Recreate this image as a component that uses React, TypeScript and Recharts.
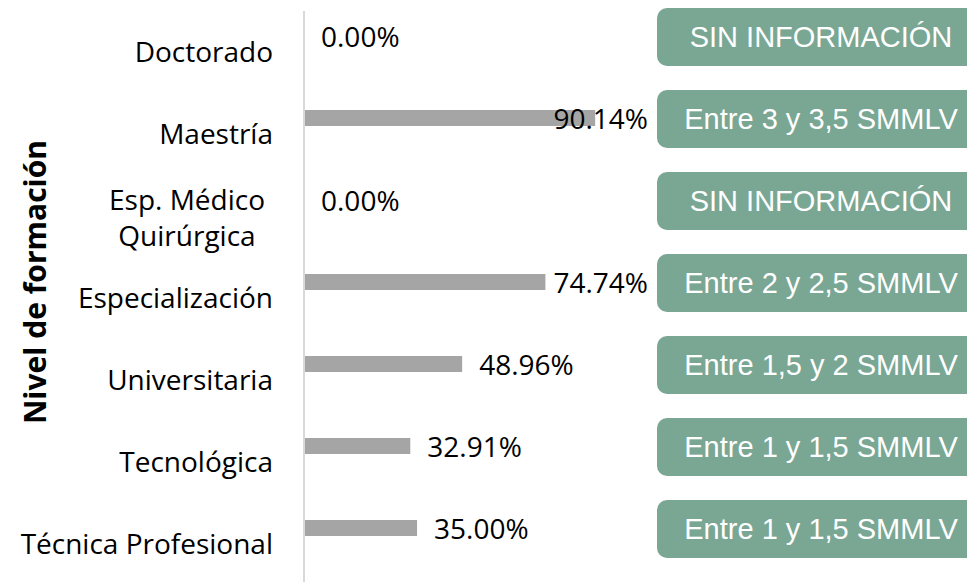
import { BarChart, Bar, XAxis, YAxis, LabelList } from "recharts";

const categories = [
  "Doctorado",
  "Maestría",
  "Esp. Médico Quirúrgica",
  "Especialización",
  "Universitaria",
  "Tecnológica",
  "Técnica Profesional",
];
const shares = [0, 90.14, 0, 74.74, 48.96, 32.91, 35.0];
const salaryRanges = [
  "SIN INFORMACIÓN",
  "Entre 3 y 3,5 SMMLV",
  "SIN INFORMACIÓN",
  "Entre 2 y 2,5 SMMLV",
  "Entre 1,5 y 2 SMMLV",
  "Entre 1 y 1,5 SMMLV",
  "Entre 1 y 1,5 SMMLV",
];

const data = categories.map((name, i) => ({
  name,
  share: shares[i],
  salary: salaryRanges[i],
}));

// bars sit in the upper slot of each category band (like an Excel cluster)
const BAR_SHIFT = -16;
const LABEL_FONT = "'Open Sans', 'Noto Sans', sans-serif";

function ShiftedBar(props: any) {
  const { x, y, width, height } = props;
  if (!width) return null;
  return <rect x={x} y={y + BAR_SHIFT} width={width} height={height} fill="#a5a5a5" />;
}

function CategoryTick(props: any) {
  const { x, y, payload } = props;
  const name: string = payload.value;
  if (name.length > 20) {
    const cut = name.lastIndexOf(" ");
    return (
      <text x={x - 86} y={y} textAnchor="middle" fontFamily={LABEL_FONT} fontSize={28} fill="#000">
        <tspan x={x - 86} y={y - 16} dy="0.355em">{name.slice(0, cut)}</tspan>
        <tspan x={x - 86} y={y + 20} dy="0.355em">{name.slice(cut + 1)}</tspan>
      </text>
    );
  }
  return (
    <text x={x} y={y} dy="0.355em" textAnchor="end" fontFamily={LABEL_FONT} fontSize={28} fill="#000">
      {name}
    </text>
  );
}

function ValueLabel(props: any) {
  const { x, y, width, height, value } = props;
  const cy = y + height / 2 + BAR_SHIFT + 1;
  const text = `${Number(value).toFixed(2)}%`;
  const start = x + width + 17;
  const tooWide = start + 95 > 648;
  return (
    <text
      x={tooWide ? 648 : start}
      y={cy}
      dy="0.355em"
      textAnchor={tooWide ? "end" : "start"}
      fontFamily={LABEL_FONT}
      fontSize={28}
      fill="#000"
    >
      {text}
    </text>
  );
}

function SalaryBox(props: any) {
  const { y, height, value } = props;
  const cy = y + height / 2 + BAR_SHIFT + 1;
  return (
    <g>
      <rect x={657} y={cy - 29} width={330} height={58} rx={10} ry={10} fill="#79a794" />
      <text
        x={821}
        y={cy}
        dy="0.36em"
        textAnchor="middle"
        fontFamily="'Liberation Sans', Arial, sans-serif"
        fontSize={29}
        fill="#ffffff"
      >
        {value}
      </text>
    </g>
  );
}

function AxisTitle(props: any) {
  const vb = props.viewBox || { x: 0, y: 11, width: 304, height: 574 };
  const cy = vb.y + vb.height / 2 + BAR_SHIFT;
  return (
    <text
      transform={`translate(${vb.x + 46},${cy}) rotate(-90)`}
      textAnchor="middle"
      fontFamily={LABEL_FONT}
      fontWeight="bold"
      fontSize={30}
      fill="#000"
    >
      Nivel de formación
    </text>
  );
}

export default function App() {
  return (
    <div style={{ position: "absolute", left: 0, top: 0, width: 967, height: 582, overflow: "hidden", background: "#fff" }}>
      <BarChart
        width={967}
        height={585}
        data={data}
        layout="vertical"
        margin={{ top: 11, right: 340, bottom: 0, left: 0 }}
      >
        <XAxis type="number" domain={[0, 100]} hide />
        <YAxis
          type="category"
          dataKey="name"
          width={304}
          tickSize={0}
          tickMargin={31}
          tickLine={false}
          axisLine={{ stroke: "#d9d9d9", strokeWidth: 2 }}
          tick={<CategoryTick />}
          interval={0}
          label={<AxisTitle />}
        />
        <Bar dataKey="share" barSize={16} shape={<ShiftedBar />} isAnimationActive={false}>
          <LabelList dataKey="share" content={<ValueLabel />} />
          <LabelList dataKey="salary" content={<SalaryBox />} />
        </Bar>
      </BarChart>
    </div>
  );
}
